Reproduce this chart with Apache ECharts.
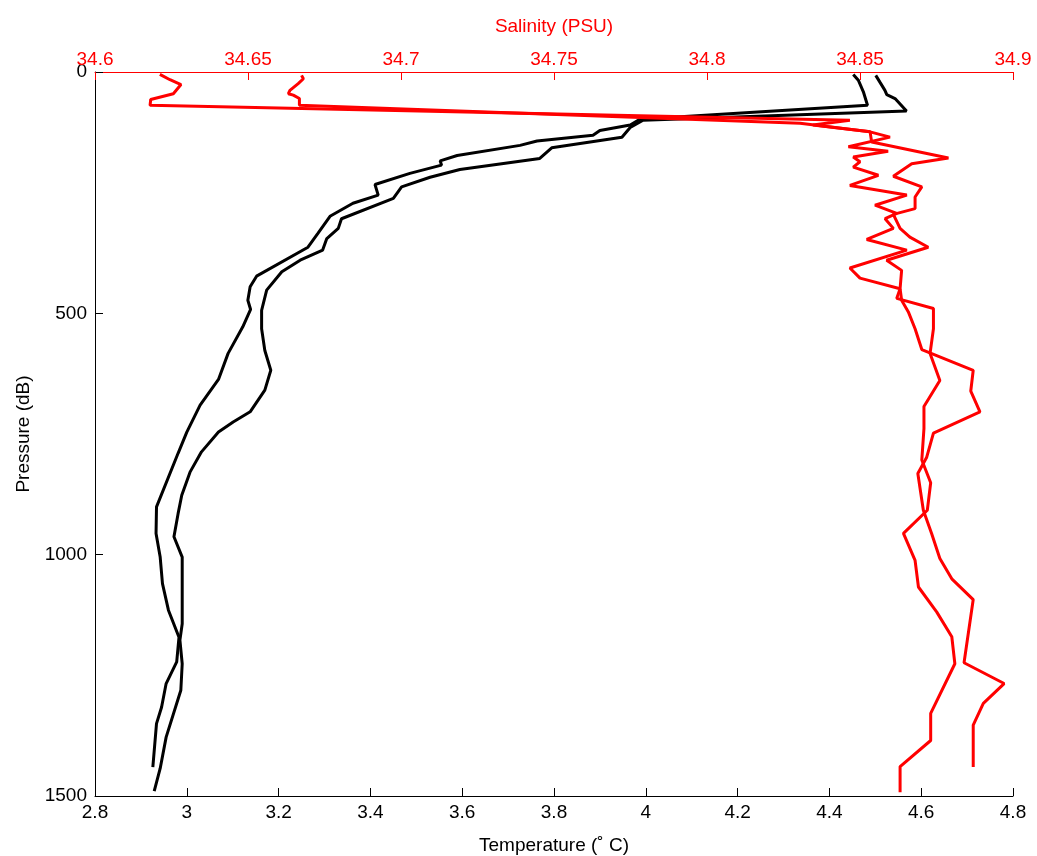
<!DOCTYPE html>
<html>
<head>
<meta charset="utf-8">
<title>CTD profiles</title>
<script src="https://cdn.jsdelivr.net/npm/echarts@6/dist/echarts.min.js"></script>
<style>
    html, body { margin: 0; padding: 0; background: #fff; }
    #chartProfile { width: 1037px; height: 856px; }
</style>
</head>
<body>
<div id="chartProfile"></div>
<script>
// cast 1 - temperature
const t1Pressure = [5, 17, 41, 69, 98, 110, 121, 131, 143, 152, 173, 184, 193, 210, 233, 255, 272, 299, 334, 363,
    423, 445, 473, 492, 528, 583, 637, 690, 746, 790, 901, 956, 1005, 1060, 1115, 1171, 1222, 1267, 1316, 1350, 1440];
const t1Temp = [4.452, 4.463, 4.474, 4.483, 3.987, 3.966, 3.900, 3.885, 3.763, 3.726, 3.589, 3.552, 3.555, 3.486, 3.410, 3.417, 3.362, 3.312, 3.286, 3.264,
    3.152, 3.138, 3.133, 3.139, 3.122, 3.090, 3.069, 3.029, 3.000, 2.981, 2.934, 2.933, 2.942, 2.947, 2.960, 2.983, 2.978, 2.955, 2.945, 2.934, 2.926];

// cast 2 - temperature
const t2Pressure = [7, 21, 38, 47, 55, 81, 100, 115, 135, 157, 179, 202, 218, 238, 262, 304, 324, 345, 369, 390,
    414, 452, 494, 532, 577, 618, 659, 704, 725, 746, 787, 829, 877, 915, 963, 1005, 1143, 1177, 1226, 1281, 1378, 1443, 1490];
const t2Temp = [4.501, 4.510, 4.521, 4.525, 4.543, 4.568, 3.994, 3.966, 3.948, 3.795, 3.769, 3.595, 3.530, 3.468, 3.450, 3.337, 3.330, 3.305, 3.296, 3.247,
    3.207, 3.174, 3.163, 3.163, 3.170, 3.183, 3.170, 3.138, 3.101, 3.069, 3.032, 3.007, 2.989, 2.981, 2.972, 2.990, 2.990, 2.985, 2.990, 2.987, 2.955, 2.942, 2.929];

// cast 1 - salinity
const s1Pressure = [7, 14, 24, 38, 45, 48, 55, 69, 106, 124, 145, 178, 190, 216, 238, 259, 283, 295, 324, 342,
    363, 390, 411, 449, 473, 497, 532, 575, 618, 661, 704, 748, 798, 832, 908, 956, 1008, 1050, 1093, 1224, 1267, 1308, 1353, 1440];
const s1Sal = [34.6675, 34.6681, 34.6664, 34.6637, 34.6632, 34.6648, 34.6668, 34.6668, 34.8304, 34.8533, 34.8538, 34.8789, 34.8669, 34.8609, 34.8702, 34.8680, 34.8680, 34.8609, 34.8631, 34.8663,
    34.8723, 34.8587, 34.8636, 34.8631, 34.8636, 34.8658, 34.8680, 34.8702, 34.8870, 34.8862, 34.8892, 34.8740, 34.8718, 34.8689, 34.8707, 34.8734, 34.8761, 34.8800, 34.8870, 34.8840,
    34.8971, 34.8903, 34.8870, 34.8870];

// cast 2 - salinity
const s2Pressure = [5, 16, 26, 45, 48, 57, 69, 100, 110, 124, 135, 155, 164, 176, 186, 197, 214, 235, 255, 276,
    293, 304, 324, 347, 369, 406, 427, 449, 469, 490, 532, 583, 639, 693, 739, 804, 851, 908, 956, 1012,
    1067, 1119, 1170, 1226, 1329, 1385, 1439, 1492];
const s2Sal = [34.6212, 34.6245, 34.6281, 34.6256, 34.6251, 34.6182, 34.6180, 34.8467, 34.8346, 34.8533, 34.8598, 34.8462, 34.8592, 34.8478, 34.8500, 34.8478, 34.8560, 34.8467, 34.8653, 34.8549,
    34.8620, 34.8582, 34.8609, 34.8522, 34.8653, 34.8467, 34.8500, 34.8631, 34.8620, 34.8740, 34.8740, 34.8729, 34.8761, 34.8709, 34.8709, 34.8702, 34.8731, 34.8720, 34.8642, 34.8680,
    34.8691, 34.8751, 34.8800, 34.8810, 34.8731, 34.8731, 34.8631, 34.8631];

const fontName = 'Liberation Sans, Arial, sans-serif';

// [값, 압력] 쌍으로 묶기
function pairs(values, pressure) {
    return values.map((v, i) => [v, pressure[i]]);
}

const chartDom = document.getElementById('chartProfile');
const profileChart = echarts.init(chartDom);

const option = {
    animation: false,
    backgroundColor: '#fff',
    textStyle: { fontFamily: fontName },
    grid: { left: 95, right: 24, top: 72, bottom: 60, containLabel: false, outerBoundsMode: 'none' },
    xAxis: [
        {
            type: 'value',
            position: 'bottom',
            min: 2.8,
            max: 4.8,
            interval: 0.2,
            name: 'Temperature (\u02DA C)',
            nameLocation: 'middle',
            nameGap: 40,
            nameTextStyle: { color: '#000', fontSize: 19, fontFamily: fontName },
            axisLine: { show: true, onZero: false, lineStyle: { color: '#000', width: 1 } },
            axisTick: { show: true, inside: true, length: 8, lineStyle: { color: '#000' } },
            axisLabel: { color: '#000', fontSize: 19, margin: 7, fontFamily: fontName },
            splitLine: { show: false },
        },
        {
            type: 'value',
            position: 'top',
            min: 34.6,
            max: 34.9,
            interval: 0.05,
            name: 'Salinity (PSU)',
            nameLocation: 'middle',
            nameGap: 36,
            nameTextStyle: { color: '#f00', fontSize: 19, fontFamily: fontName },
            axisLine: { show: true, onZero: false, lineStyle: { color: '#f00', width: 1 } },
            axisTick: { show: true, inside: true, length: 8, lineStyle: { color: '#f00' } },
            axisLabel: { color: '#f00', fontSize: 19, margin: 3, fontFamily: fontName },
            splitLine: { show: false },
        },
    ],
    yAxis: {
        type: 'value',
        inverse: true,
        min: 0,
        max: 1500,
        interval: 500,
        name: 'Pressure (dB)',
        nameLocation: 'middle',
        nameGap: 62,
        nameTextStyle: { color: '#000', fontSize: 19, fontFamily: fontName },
        axisLine: { show: true, onZero: false, lineStyle: { color: '#000', width: 1 } },
        axisTick: { show: true, inside: true, length: 8, lineStyle: { color: '#000' } },
        axisLabel: {
            color: '#000', fontSize: 19, margin: 8, fontFamily: fontName,
            formatter: (value) => String(value),
        },
        splitLine: { show: false },
    },
    series: [
        {
            name: 'T1', type: 'line', xAxisIndex: 0, showSymbol: false,
            lineStyle: { color: '#000', width: 3 }, itemStyle: { color: '#000' },
            data: pairs(t1Temp, t1Pressure),
        },
        {
            name: 'T2', type: 'line', xAxisIndex: 0, showSymbol: false,
            lineStyle: { color: '#000', width: 3 }, itemStyle: { color: '#000' },
            data: pairs(t2Temp, t2Pressure),
        },
        {
            name: 'S1', type: 'line', xAxisIndex: 1, showSymbol: false,
            lineStyle: { color: '#f00', width: 3 }, itemStyle: { color: '#f00' },
            data: pairs(s1Sal, s1Pressure),
        },
        {
            name: 'S2', type: 'line', xAxisIndex: 1, showSymbol: false,
            lineStyle: { color: '#f00', width: 3 }, itemStyle: { color: '#f00' },
            data: pairs(s2Sal, s2Pressure),
        },
    ],
};

profileChart.setOption(option);
</script>
</body>
</html>
